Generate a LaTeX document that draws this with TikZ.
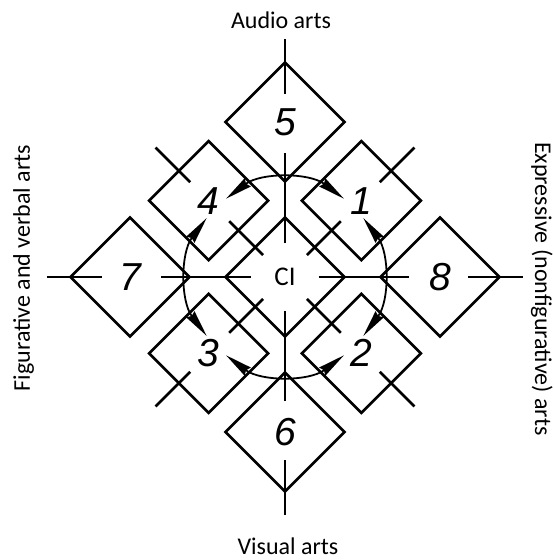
\documentclass[tikz,border=0pt]{standalone}
\usepackage{fontspec}
\setmainfont{Carlito}
\newfontfamily\digitfont{Liberation Sans}
\usetikzlibrary{arrows.meta,shapes.geometric,calc}
\tikzset{
  field/.style={diamond,aspect=1,draw,line width=2.6pt,minimum size=120pt,
                inner sep=0pt,font=\digitfont\itshape\fontsize{39}{39}\selectfont},
  centrefield/.style={field,font=\fontsize{27}{27}\selectfont},
  axisline/.style={line width=2.5pt},
  cycle/.style={line width=1.8pt,
    {Stealth[length=27pt,width=10pt,inset=2pt]}-{Stealth[length=27pt,width=10pt,inset=2pt]}},
  artlabel/.style={font=\fontsize{24}{24}\selectfont,inner sep=0pt},
}
\begin{document}
\begin{tikzpicture}[x=1pt,y=1pt]
  \useasboundingbox (-285,-283) rectangle (269,277);
  \node[centrefield] (ci) at (0,0) {CI};
  % fields on the two axes
  \foreach \n/\a in {5/90,8/0,6/270,7/180}
    \node[field] (f\n) at (\a:155) {\n};
  % fields on the diagonals
  \foreach \n/\a in {1/45,2/-45,3/225,4/135}
    \node[field] (f\n) at (\a:108) {\n};
  % axis and diagonal strokes, broken where the numbers stand
  \foreach \a in {0,90,180,270}{
    \draw[axisline] (\a:34) -- (\a:124);
    \draw[axisline] (\a:183) -- (\a:238);}
  \foreach \a in {45,135,225,315}{
    \draw[axisline] (\a:31) -- (\a:79);
    \draw[axisline] (\a:134) -- (\a:183);}
  % the ring of double arrows
  \foreach \a in {0,90,180,270}
    \draw[cycle] ({\a+37}:98) arc[start angle={\a+37},end angle={\a-37},radius=98];
  \node[artlabel,anchor=base] (audio) at (-4,248) {Audio arts};
  \node[artlabel,anchor=base] (visual) at (3,-277) {Visual arts};
  \node[artlabel,rotate=90,anchor=base] (figur) at (-255,9) {Figurative and verbal arts};
  \node[artlabel,rotate=-90,anchor=base] (expr) at (250,-12) {Expressive (nonfigurative) arts};
\end{tikzpicture}
\end{document}
